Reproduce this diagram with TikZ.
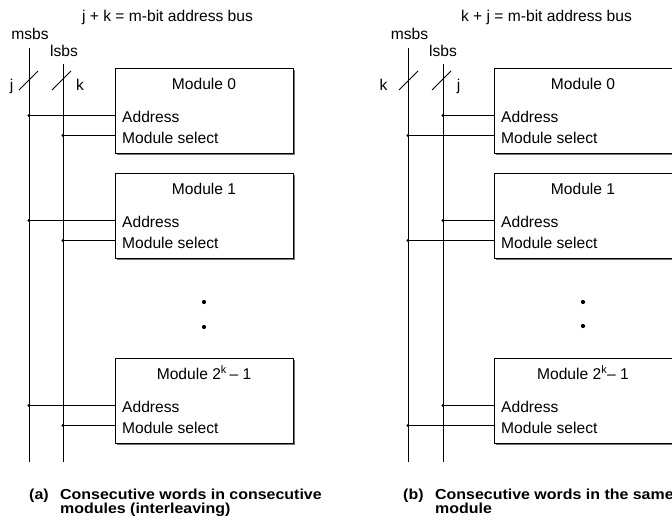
\documentclass[tikz,border=0pt]{standalone}
\usepackage{fontspec}
\setmainfont{Liberation Sans}
\usetikzlibrary{shadows}
\begin{document}
\begin{tikzpicture}[x=1pt,y=-1pt,
  wire/.style={line width=0.9pt},
  modbox/.style={draw, line width=0.9pt, fill=white, anchor=north west,
    minimum width=178pt, minimum height=85pt, inner sep=0pt,
    drop shadow={shadow xshift=1.1pt, shadow yshift=-1.1pt, fill=black!55, opacity=1}},
  lbl/.style={font=\fontsize{15.6}{17}\selectfont, inner sep=0pt},
  capt/.style={font=\bfseries\fontsize{14.5}{15}\selectfont, inner sep=0pt,
    anchor=base west, xscale=1.1},
  tap/.style={circle, fill, inner sep=0pt, minimum size=3.2pt},
  gapdot/.style={circle, fill, inner sep=0pt, minimum size=4.2pt}]
\useasboundingbox (0,0) rectangle (672,520);

% ---------------- (a) interleaving: lsbs select the module ----------------
\node[lbl, anchor=base] (aTitle) at (167.5,21) {j + k = m-bit address bus};
\node[lbl, anchor=base] (aMsbs) at (30,39) {msbs};
\node[lbl, anchor=base] (aLsbs) at (64,56) {lsbs};
\coordinate (aMtop) at (29,48);  \coordinate (aMbot) at (29,462);
\coordinate (aLtop) at (63,64);  \coordinate (aLbot) at (63,462);
\draw[wire] (aMtop) -- (aMbot);
\draw[wire] (aLtop) -- (aLbot);
\draw[wire] (19,90) -- (38,71);
\draw[wire] (52,90) -- (71,71);
\node[lbl, anchor=base] (aJ) at (11.5,90) {j};
\node[lbl, anchor=base] (aK) at (80,90) {k};

\foreach \n/\t/\name in {0/68/Module 0,1/173/Module 1,2/358/{Module 2\textsuperscript{k}\,–\ 1}} {
  \node[modbox] (aB\n) at (115,\t) {};
  \node[lbl, anchor=base] (aT\n) at (204,\t+21) {\name};
  \node[lbl, anchor=base west] (aA\n) at (122,\t+54.5) {Address};
  \node[lbl, anchor=base west] (aS\n) at (122,\t+75.5) {Module select};
  \node[tap] (aPa\n) at (29,\t+47.5) {};
  \node[tap] (aPs\n) at (63,\t+67.5) {};
  \draw[wire] (aPa\n.center) -- (aPa\n.center -| aB\n.west);
  \draw[wire] (aPs\n.center) -- (aPs\n.center -| aB\n.west);
}
\node[gapdot] (aD1) at (204,302) {};
\node[gapdot] (aD2) at (204,327) {};

\node[capt] (aCapL) at (29,499) {(a)};
\node[capt] (aCap1) at (60,499) {Consecutive words in consecutive};
\node[capt] (aCap2) at (60,513) {modules (interleaving)};

% ---------------- (b) msbs select the module ----------------
\node[lbl, anchor=base] (bTitle) at (546.5,21) {k + j = m-bit address bus};
\node[lbl, anchor=base] (bMsbs) at (409.5,39) {msbs};
\node[lbl, anchor=base] (bLsbs) at (443,56) {lsbs};
\coordinate (bMtop) at (408,48);  \coordinate (bMbot) at (408,462);
\coordinate (bLtop) at (443,64); \coordinate (bLbot) at (443,462);
\draw[wire] (bMtop) -- (bMbot);
\draw[wire] (bLtop) -- (bLbot);
\draw[wire] (399,90) -- (418,71);
\draw[wire] (432,90) -- (451,71);
\node[lbl, anchor=base] (bK) at (383.5,90) {k};
\node[lbl, anchor=base] (bJ) at (458.5,90) {j};

\foreach \n/\t/\name in {0/68/Module 0,1/173/Module 1,2/358/{Module 2\textsuperscript{k}–\ 1}} {
  \node[modbox] (bB\n) at (494,\t) {};
  \node[lbl, anchor=base] (bT\n) at (583,\t+21) {\name};
  \node[lbl, anchor=base west] (bA\n) at (501,\t+54.5) {Address};
  \node[lbl, anchor=base west] (bS\n) at (501,\t+75.5) {Module select};
  \node[tap] (bPa\n) at (443,\t+47.5) {};
  \node[tap] (bPs\n) at (408,\t+67.5) {};
  \draw[wire] (bPa\n.center) -- (bPa\n.center -| bB\n.west);
  \draw[wire] (bPs\n.center) -- (bPs\n.center -| bB\n.west);
}
\node[gapdot] (bD1) at (583,302) {};
\node[gapdot] (bD2) at (583,326) {};

\node[capt] (bCapL) at (403,499) {(b)};
\node[capt] (bCap1) at (435,499) {Consecutive words in the same};
\node[capt] (bCap2) at (435,513) {module};
\end{tikzpicture}
\end{document}
